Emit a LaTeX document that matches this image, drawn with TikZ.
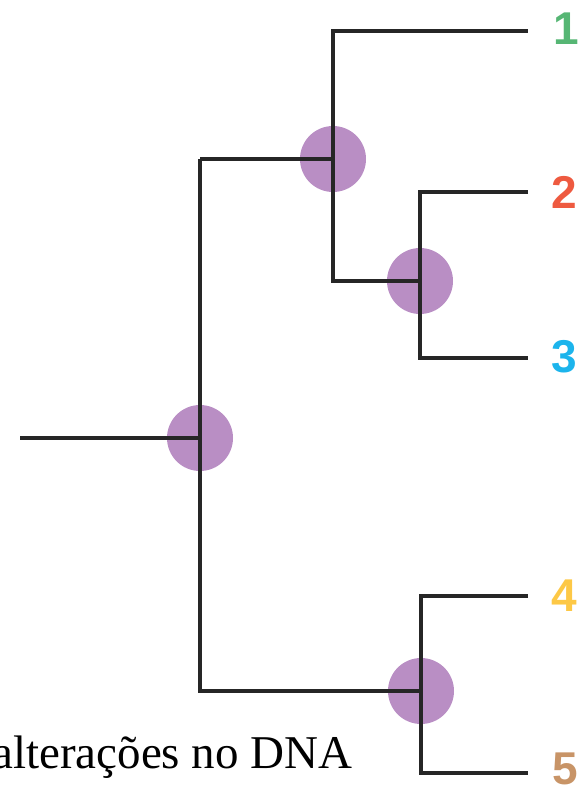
\documentclass[tikz,border=0pt]{standalone}
\usepackage{fontspec}
\setmainfont{Liberation Serif}
\newfontfamily\leaffont{Liberation Sans}
\usepackage{xcolor}
\usepackage{tikz}
\usetikzlibrary{positioning}

\definecolor{nodepurple}{RGB}{185,142,196}
\definecolor{leafA}{RGB}{86,182,116}
\definecolor{leafB}{RGB}{238,90,64}
\definecolor{leafC}{RGB}{28,180,236}
\definecolor{leafD}{RGB}{253,200,70}
\definecolor{leafE}{RGB}{200,148,103}

\begin{document}
\begin{tikzpicture}[x=1pt, y=-1pt,
    split/.style={circle, fill=nodepurple, minimum size=66pt, inner sep=0pt},
    branch/.style={draw=black!85, line width=3.2pt},
    leaf/.style={font=\leaffont\bfseries\fontsize{46}{46}\selectfont}]
    \clip (0,0) rectangle (587,796);
        % speciation points
        \node[split] (root) at (200,438) {};
        \node[split] (a) at (333,159) {};
        \node[split] (b) at (420,281) {};
        \node[split] (c) at (421,691) {};
        % tips of the tree
        \coordinate (stem) at (20,438);
        \foreach \i/\y in {1/31, 2/192, 3/358, 4/596, 5/773}
        \coordinate (tip\i) at (528,\y);
        \node[leaf, text=leafA] (l1) at (566,29) {1};
        \node[leaf, text=leafB] (l2) at (564,192) {2};
        \node[leaf, text=leafC] (l3) at (564,357) {3};
        \node[leaf, text=leafD] (l4) at (564,596) {4};
        \node[leaf, text=leafE] (l5) at (565,769) {5};
        % branches
        \draw[branch] (stem) -- (root.center);
        \draw[branch] (a.center) |- (tip1);
        \draw[branch] (a.center -| root.center) -- (a.center) -- (b.center -| a.center) -- (b.center);
        \draw[branch] (a.center -| root.center) -- (c.center -| root.center) -- (c.center);
        \draw[branch] (tip2) -| (b.center) |- (tip3);
        \draw[branch] (tip4) -| (c.center) |- (tip5);
        \node[anchor=base east, font=\fontsize{47}{47}\selectfont] (dna) at (356,768) {alterações no DNA};
    \end{tikzpicture}
\end{document}
